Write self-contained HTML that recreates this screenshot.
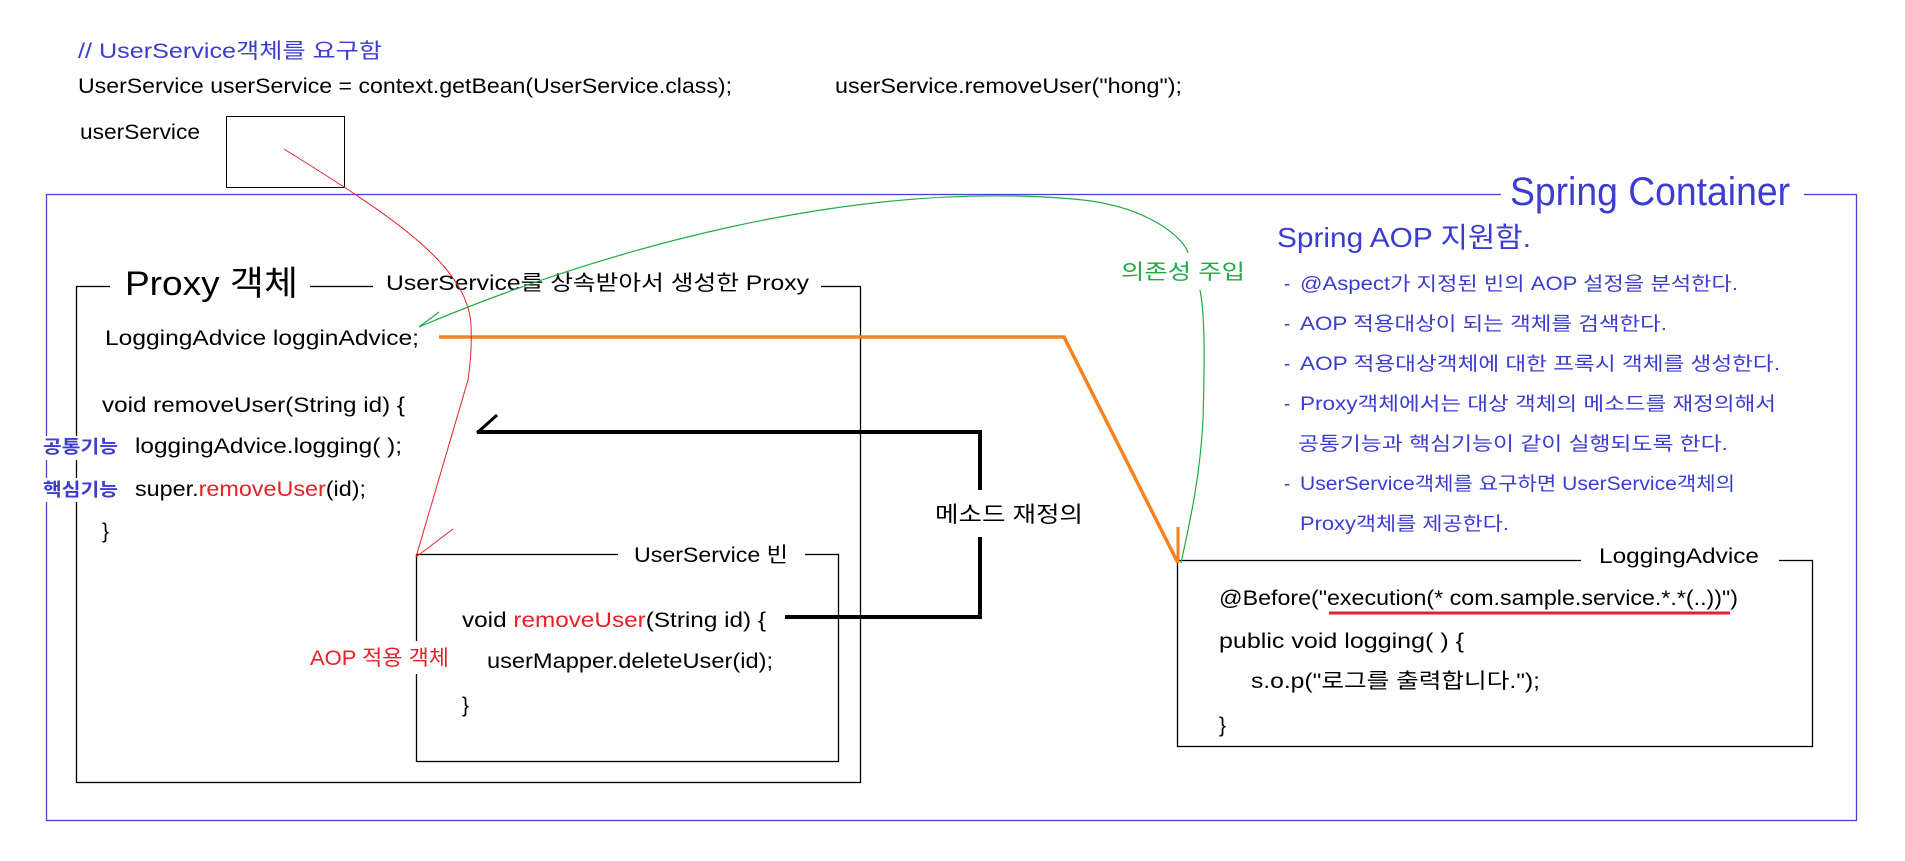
<!DOCTYPE html>
<html><head><meta charset="utf-8"><style>
html,body{margin:0;padding:0;background:#fff;}
svg{display:block;}
text{font-family:"Liberation Sans","Noto Sans CJK KR",sans-serif;}
</style></head><body>
<svg width="1905" height="861" viewBox="0 0 1905 861" xmlns="http://www.w3.org/2000/svg">
<rect width="1905" height="861" fill="#fff"/>
<g font-size="21" fill="#000">
<text x="78" y="58" fill="#3c3cd0" textLength="304" lengthAdjust="spacingAndGlyphs">// UserService객체를 요구함</text>
<text x="78" y="93" textLength="654" lengthAdjust="spacingAndGlyphs">UserService userService = context.getBean(UserService.class);</text>
<text x="835" y="93" textLength="347" lengthAdjust="spacingAndGlyphs">userService.removeUser("hong");</text>
<text x="80" y="139" textLength="120" lengthAdjust="spacingAndGlyphs">userService</text>
</g>
<rect x="226.5" y="116.5" width="118" height="71" fill="none" stroke="#000" stroke-width="1"/>
<!-- container -->
<rect x="46.5" y="194.5" width="1810" height="626" fill="none" stroke="#4444cc" stroke-width="1.3"/>
<rect x="1501" y="180" width="303" height="30" fill="#fff"/>
<text x="1510" y="205" font-size="40" fill="#3c3cd0" textLength="280" lengthAdjust="spacingAndGlyphs">Spring Container</text>
<!-- proxy box -->
<rect x="76.5" y="286.5" width="784" height="496" fill="none" stroke="#000" stroke-width="1.3"/>
<rect x="110" y="270" width="200" height="32" fill="#fff"/>
<rect x="373" y="270" width="448" height="32" fill="#fff"/>
<text x="125" y="295" font-size="34" textLength="173" lengthAdjust="spacingAndGlyphs">Proxy 객체</text>
<text x="386" y="290" font-size="21" textLength="423" lengthAdjust="spacingAndGlyphs">UserService를 상속받아서 생성한 Proxy</text>
<g font-size="21">
<text x="105" y="345" textLength="314" lengthAdjust="spacingAndGlyphs">LoggingAdvice logginAdvice;</text>
<text x="102" y="412" textLength="303" lengthAdjust="spacingAndGlyphs">void removeUser(String id) {</text>
<rect x="40" y="436" width="82" height="24" fill="#fff"/>
<rect x="40" y="478" width="82" height="24" fill="#fff"/>
<text x="43" y="453" font-size="18" font-weight="bold" fill="#3c3cd0" textLength="75" lengthAdjust="spacingAndGlyphs">공통기능</text>
<text x="43" y="496" font-size="18" font-weight="bold" fill="#3c3cd0" textLength="75" lengthAdjust="spacingAndGlyphs">핵심기능</text>
<text x="135" y="453" textLength="267" lengthAdjust="spacingAndGlyphs">loggingAdvice.logging( );</text>
<text x="135" y="496" textLength="231" lengthAdjust="spacingAndGlyphs">super.<tspan fill="#e8202a">removeUser</tspan>(id);</text>
<text x="102" y="538">}</text>
</g>
<!-- UserService bean box -->
<rect x="416.5" y="554.5" width="422" height="207" fill="none" stroke="#000" stroke-width="1.3"/>
<rect x="618" y="540" width="187" height="28" fill="#fff"/>
<text x="634" y="562" font-size="21" textLength="154" lengthAdjust="spacingAndGlyphs">UserService 빈</text>
<rect x="306" y="641" width="146" height="33" fill="#fff"/>
<g font-size="21">
<text x="310" y="665" fill="#e8202a" textLength="139" lengthAdjust="spacingAndGlyphs">AOP 적용 객체</text>
<text x="462" y="627" textLength="304" lengthAdjust="spacingAndGlyphs">void <tspan fill="#e8202a">removeUser</tspan>(String id) {</text>
<text x="487" y="668" textLength="286" lengthAdjust="spacingAndGlyphs">userMapper.deleteUser(id);</text>
<text x="462" y="712">}</text>
</g>
<!-- bracket -->
<polyline points="477,432 980,432 980,490" fill="none" stroke="#000" stroke-width="4"/>
<line x1="477" y1="433" x2="497" y2="415" stroke="#000" stroke-width="3"/>
<polyline points="785,617 980,617 980,537" fill="none" stroke="#000" stroke-width="4"/>
<text x="935" y="522" font-size="22" textLength="148" lengthAdjust="spacingAndGlyphs">메소드 재정의</text>
<!-- right text -->
<g fill="#3c3cd0">
<text x="1277" y="247" font-size="28" textLength="254" lengthAdjust="spacingAndGlyphs">Spring AOP 지원함.</text>
<g font-size="19">
<text x="1284" y="290">-</text><text x="1300" y="290" textLength="438" lengthAdjust="spacingAndGlyphs">@Aspect가 지정된 빈의 AOP 설정을 분석한다.</text>
<text x="1284" y="330">-</text><text x="1300" y="330" textLength="367" lengthAdjust="spacingAndGlyphs">AOP 적용대상이 되는 객체를 검색한다.</text>
<text x="1284" y="370">-</text><text x="1300" y="370" textLength="480" lengthAdjust="spacingAndGlyphs">AOP 적용대상객체에 대한 프록시 객체를 생성한다.</text>
<text x="1284" y="410">-</text><text x="1300" y="410" textLength="476" lengthAdjust="spacingAndGlyphs">Proxy객체에서는 대상 객체의 메소드를 재정의해서</text>
<text x="1298" y="450" textLength="430" lengthAdjust="spacingAndGlyphs">공통기능과 핵심기능이 같이 실행되도록 한다.</text>
<text x="1284" y="490">-</text><text x="1300" y="490" textLength="435" lengthAdjust="spacingAndGlyphs">UserService객체를 요구하면 UserService객체의</text>
<text x="1300" y="530" textLength="209" lengthAdjust="spacingAndGlyphs">Proxy객체를 제공한다.</text>
</g>
</g>
<!-- LoggingAdvice box -->
<rect x="1177.5" y="560.5" width="635" height="186" fill="none" stroke="#000" stroke-width="1.3"/>
<rect x="1581" y="540" width="198" height="28" fill="#fff"/>
<text x="1599" y="563" font-size="21" textLength="160" lengthAdjust="spacingAndGlyphs">LoggingAdvice</text>
<g font-size="21">
<text x="1219" y="605" textLength="519" lengthAdjust="spacingAndGlyphs">@Before("execution(* com.sample.service.*.*(..))")</text>
<line x1="1329" y1="613" x2="1730" y2="613" stroke="#e8202a" stroke-width="3"/>
<text x="1219" y="648" textLength="245" lengthAdjust="spacingAndGlyphs">public void logging( ) {</text>
<text x="1251" y="688" textLength="289" lengthAdjust="spacingAndGlyphs">s.o.p("로그를 출력합니다.");</text>
<text x="1219" y="732">}</text>
</g>
<!-- orange -->
<polyline points="439,337 1064,337 1178,563" fill="none" stroke="#f58220" stroke-width="3.5"/>
<line x1="1178" y1="527" x2="1178" y2="563" stroke="#f58220" stroke-width="3"/>
<!-- green -->
<path d="M419,327 C600,250 850,180 1073,199 C1150,205 1185,240 1188,253" fill="none" stroke="#22aa44" stroke-width="1.2"/>
<path d="M1200,290 C1206,320 1204,380 1203,420 C1200,480 1188,530 1181,563" fill="none" stroke="#22aa44" stroke-width="1.2"/>
<line x1="419" y1="327" x2="439" y2="312" stroke="#22aa44" stroke-width="1.2"/>
<text x="1121" y="279" font-size="21" fill="#22aa44" textLength="124" lengthAdjust="spacingAndGlyphs">의존성 주입</text>
<!-- red -->
<path d="M284,149 C390,215 468,265 471,325 C472,350 470,365 468,380 L416,557" fill="none" stroke="#e8202a" stroke-width="1"/>
<line x1="416" y1="557" x2="453" y2="529" stroke="#e8202a" stroke-width="1"/>
</svg>
</body></html>
